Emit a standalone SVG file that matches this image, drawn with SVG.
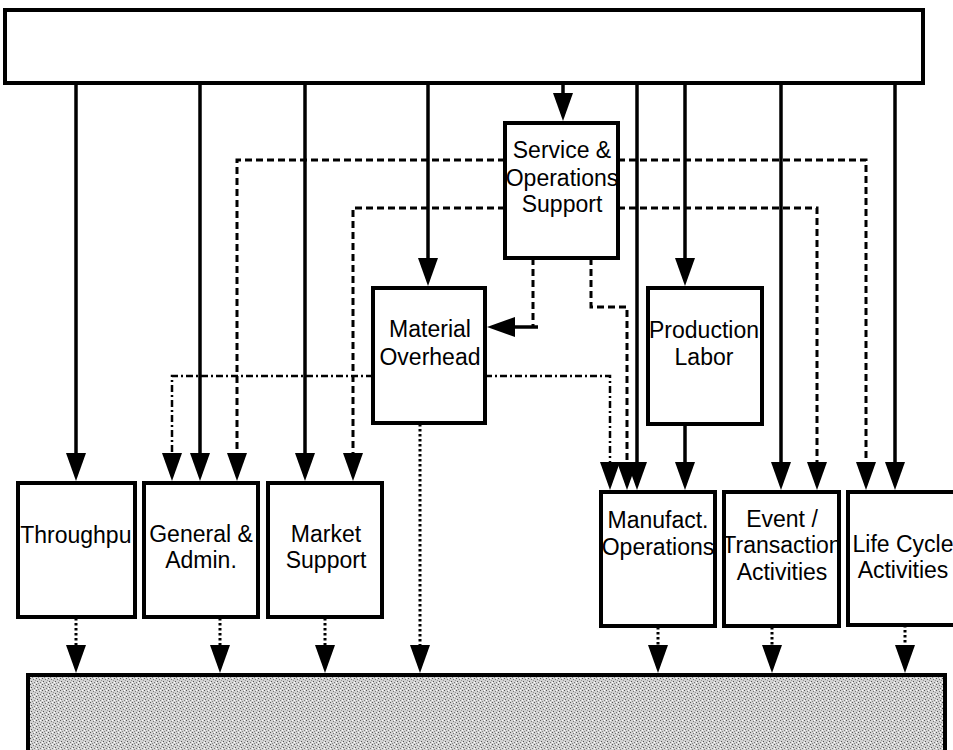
<svg xmlns="http://www.w3.org/2000/svg" width="953" height="750" viewBox="0 0 953 750">
<style>
.box{fill:#fff;stroke:#000;stroke-width:4}
.lbl{font-family:"Liberation Sans",Arial,sans-serif;font-size:23px;fill:#000;text-anchor:middle}
.solid{fill:none;stroke:#000;stroke-width:3.5}
.dash{fill:none;stroke:#000;stroke-width:3;stroke-dasharray:7,4}
.dashdot{fill:none;stroke:#000;stroke-width:2.5;stroke-dasharray:7,3,2,3}
.dot{fill:none;stroke:#000;stroke-width:3;stroke-dasharray:2.5,2.5}
.arr{marker-end:url(#ah)}
</style>
<defs>
<marker id="ah" viewBox="0 0 28 20" refX="18" refY="10" markerWidth="28" markerHeight="20" markerUnits="userSpaceOnUse" orient="auto">
<path d="M0,0 L28,10 L0,20 Z" fill="#000"/>
</marker>
<pattern id="stip" width="6" height="6" patternUnits="userSpaceOnUse">
<rect width="6" height="6" fill="#d2d2d2"/>
<rect x="0" y="0" width="1" height="1" fill="#555"/>
<rect x="3" y="1" width="1" height="1" fill="#777"/>
<rect x="1" y="3" width="1" height="1" fill="#555"/>
<rect x="4" y="4" width="1" height="1" fill="#777"/>
<rect x="2" y="5" width="1" height="1" fill="#888"/>
<rect x="5" y="2" width="1" height="1" fill="#999"/>
<rect x="4" y="0" width="1" height="1" fill="#fff"/>
<rect x="0" y="4" width="1" height="1" fill="#fff"/>
</pattern>
<clipPath id="clipT"><rect x="18" y="483" width="113" height="134"/></clipPath>
</defs>

<g id="top-box"><rect class="box" x="5" y="10" width="918" height="73"/></g>
<g id="bottom-box"><rect x="28" y="675" width="917" height="80" fill="url(#stip)" stroke="#000" stroke-width="4"/></g>

<g id="connectors">
<line class="solid arr" x1="76" y1="83" x2="76" y2="471"/>
<line class="solid arr" x1="200" y1="83" x2="200" y2="471"/>
<line class="solid arr" x1="305" y1="83" x2="305" y2="471"/>
<line class="solid arr" x1="428" y1="83" x2="428" y2="276"/>
<line class="solid arr" x1="563" y1="83" x2="563" y2="111"/>
<line class="solid arr" x1="637" y1="83" x2="637" y2="480"/>
<line class="solid arr" x1="685" y1="83" x2="685" y2="276"/>
<line class="solid arr" x1="781" y1="83" x2="781" y2="480"/>
<line class="solid arr" x1="895" y1="83" x2="895" y2="480"/>
<line class="solid arr" x1="685" y1="424" x2="685" y2="480"/>
<polyline class="dash arr" points="505,160 237,160 237,471"/>
<polyline class="dash arr" points="505,208 353,208 353,471"/>
<polyline class="dash arr" points="618,160 866,160 866,480"/>
<polyline class="dash arr" points="618,208 817,208 817,480"/>
<polyline class="dash" points="533,258 533,327"/>
<line class="solid arr" x1="538" y1="327" x2="497" y2="327"/>
<polyline class="dash arr" points="591,258 591,307 627,307 627,480"/>
<polyline class="dashdot arr" points="373,376 172,376 172,471"/>
<polyline class="dashdot arr" points="485,376 610,376 610,480"/>
<line class="dot arr" x1="420" y1="424" x2="420" y2="663"/>
<line class="dot arr" x1="76" y1="618" x2="76" y2="663"/>
<line class="dot arr" x1="220" y1="618" x2="220" y2="663"/>
<line class="dot arr" x1="325" y1="618" x2="325" y2="663"/>
<line class="dot arr" x1="658" y1="627" x2="658" y2="663"/>
<line class="dot arr" x1="772" y1="627" x2="772" y2="663"/>
<line class="dot arr" x1="905" y1="625" x2="905" y2="663"/>
</g>

<g id="service-ops-support">
<rect class="box" x="505" y="123" width="113" height="135"/>
<text class="lbl" x="562" y="158">Service &amp;</text>
<text class="lbl" x="562" y="186">Operations</text>
<text class="lbl" x="562" y="212">Support</text>
</g>
<g id="material-overhead">
<rect class="box" x="373" y="288" width="112" height="135"/>
<text class="lbl" x="430" y="337">Material</text>
<text class="lbl" x="430" y="365">Overhead</text>
</g>
<g id="production-labor">
<rect class="box" x="648" y="288" width="114" height="136"/>
<text class="lbl" x="704" y="338">Production</text>
<text class="lbl" x="704" y="365">Labor</text>
</g>
<g id="throughput">
<rect class="box" x="18" y="483" width="117" height="134"/>
<text class="lbl" x="79" y="543" clip-path="url(#clipT)">Throughput</text>
</g>
<g id="general-admin">
<rect class="box" x="144" y="483" width="114" height="134"/>
<text class="lbl" x="201" y="542">General &amp;</text>
<text class="lbl" x="201" y="568">Admin.</text>
</g>
<g id="market-support">
<rect class="box" x="268" y="483" width="114" height="134"/>
<text class="lbl" x="326" y="542">Market</text>
<text class="lbl" x="326" y="568">Support</text>
</g>
<g id="manufact-operations">
<rect class="box" x="601" y="492" width="114" height="134"/>
<text class="lbl" x="658" y="528">Manufact.</text>
<text class="lbl" x="658" y="555">Operations</text>
</g>
<g id="event-transaction">
<rect class="box" x="724" y="492" width="115" height="134"/>
<text class="lbl" x="782" y="527">Event /</text>
<text class="lbl" x="782" y="553">Transaction</text>
<text class="lbl" x="782" y="580">Activities</text>
</g>
<g id="life-cycle">
<rect class="box" x="848" y="492" width="120" height="133"/>
<text class="lbl" x="903" y="552">Life Cycle</text>
<text class="lbl" x="903" y="578">Activities</text>
</g>
</svg>
